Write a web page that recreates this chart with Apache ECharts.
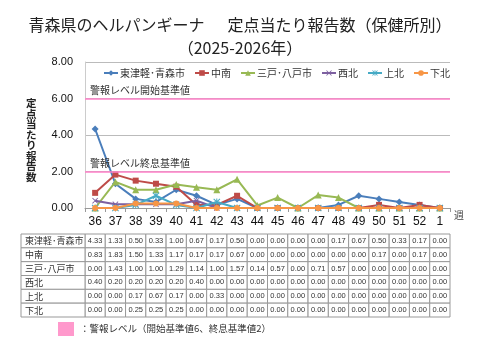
<!DOCTYPE html>
<html><head><meta charset="utf-8">
<script src="https://cdn.jsdelivr.net/npm/echarts@6/dist/echarts.min.js"></script>
<style>html,body{margin:0;padding:0;background:#fff}#c{width:480px;height:360px}</style>
</head><body><div id="c"></div>
<script>
const weeks = ['36','37','38','39','40','41','42','43','44','45','46','47','48','49','50','51','52','1'];
const regionNames = ['東津軽･青森市','中南','三戸･八戸市','西北','上北','下北'];
const higashitsugaru = [4.33,1.33,0.50,0.33,1.00,0.67,0.17,0.50,0.00,0.00,0.00,0.00,0.17,0.67,0.50,0.33,0.17,0.00];
const chunan        = [0.83,1.83,1.50,1.33,1.17,0.17,0.17,0.67,0.00,0.00,0.00,0.00,0.00,0.00,0.17,0.00,0.17,0.00];
const sannohe       = [0.00,1.43,1.00,1.00,1.29,1.14,1.00,1.57,0.14,0.57,0.00,0.71,0.57,0.00,0.00,0.00,0.00,0.00];
const seihoku       = [0.40,0.20,0.20,0.20,0.20,0.40,0.00,0.00,0.00,0.00,0.00,0.00,0.00,0.00,0.00,0.00,0.00,0.00];
const kamikita      = [0.00,0.00,0.17,0.67,0.17,0.00,0.33,0.00,0.00,0.00,0.00,0.00,0.00,0.00,0.00,0.00,0.00,0.00];
const shimokita     = [0.00,0.00,0.25,0.25,0.25,0.00,0.00,0.00,0.00,0.00,0.00,0.00,0.00,0.00,0.00,0.00,0.00,0.00];
const alertStart = 6;
const alertEnd = 2;
const yTicks = [0, 2, 4, 6, 8];

const allValues = [higashitsugaru, chunan, sannohe, seihoku, kamikita, shimokita];
const colors = ['#4A7EBB','#BE4B48','#98B954','#7D60A0','#46AAC5','#F79646'];
const XPATH = 'path://M0,1L1,0L5,4L9,0L10,1L6,5L10,9L9,10L5,6L1,10L0,9L4,5Z';
const STARPATH = 'path://M0,1L1,0L5,4L9,0L10,1L6,5L10,9L9,10L5,6L1,10L0,9L4,5Z M4.3,0L5.7,0L5.7,10L4.3,10Z';
const symbols = ['diamond','rect','triangle',XPATH,STARPATH,'circle'];
const symSizes = [7,6,7,6,7,6];
const JP = '"Noto Sans CJK JP", sans-serif';
const NUM = '"Liberation Sans","Noto Sans CJK JP", sans-serif';

const lineSeries = regionNames.map((n, i) => ({
  name: n, type: 'line', data: allValues[i], xAxisIndex: 0, yAxisIndex: 0,
  symbol: symbols[i], symbolSize: symSizes[i], showAllSymbol: true,
  lineStyle: { width: 2, color: colors[i] }, itemStyle: { color: colors[i] },
  z: 3 + i,
  markLine: i === 0 ? {
    silent: true, symbol: 'none',
    lineStyle: { color: '#FF80C8', width: 1.5, type: 'solid' },
    label: { position: 'insideStartTop', color: '#333', fontSize: 10, fontFamily: JP, distance: [5, 3] },
    data: [
      { yAxis: alertStart, label: { formatter: '警報レベル開始基準値' } },
      { yAxis: alertEnd, label: { formatter: '警報レベル終息基準値' } }
    ]
  } : undefined
}));

const tableData = [];
allValues.forEach((arr, r) => arr.forEach((v, c) => tableData.push([c, r, v])));

const tableSeries = {
  type: 'custom', xAxisIndex: 1, yAxisIndex: 1, silent: true, clip: false,
  data: tableData, encode: { x: 0, y: 1 },
  renderItem: function (params, api) {
    const c = api.value(0), r = api.value(1), v = api.value(2);
    const p = api.coord([c, r]);
    const s = api.size([1, 1]);
    const x0 = p[0] - s[0] / 2, y0 = p[1] - s[1] / 2;
    const children = [
      { type: 'rect', shape: { x: x0, y: y0, width: s[0], height: s[1] },
        style: { fill: '#fff', stroke: '#999', lineWidth: 1 } },
      { type: 'text', style: { text: v.toFixed(2), x: p[0], y: p[1], align: 'center', verticalAlign: 'middle',
        font: '7.5px ' + NUM, fill: '#333' } }
    ];
    if (c === 0) {
      children.push(
        { type: 'rect', shape: { x: 21, y: y0, width: x0 - 21, height: s[1] },
          style: { fill: '#fff', stroke: '#999', lineWidth: 1 } },
        { type: 'text', style: { text: regionNames[r], x: 25, y: p[1], align: 'left', verticalAlign: 'middle',
          font: '9px ' + JP, fill: '#333' } }
      );
    }
    return { type: 'group', children: children };
  }
};

const chart = echarts.init(document.getElementById('c'));
chart.setOption({
  backgroundColor: '#fff',
  animation: false,
  title: [
    { text: '青森県のヘルパンギーナ　  定点当たり報告数（保健所別）', left: 'center', top: 12,
      textStyle: { fontFamily: JP, fontSize: 16, fontWeight: 'normal', color: '#222' } },
    { text: '（2025-2026年）', left: 'center', top: 35,
      textStyle: { fontFamily: JP, fontSize: 16, fontWeight: 'normal', color: '#222' } }
  ],
  legend: {
    data: regionNames, left: 98, top: 63, itemWidth: 14, itemHeight: 7, itemGap: 9,
    textStyle: { fontFamily: JP, fontSize: 10, color: '#333', padding: [0, 0, 0, -3] }
  },
  grid: [
    { left: 85, right: 30, top: 62, height: 146 },
    { left: 85, right: 30, top: 234, height: 83 }
  ],
  xAxis: [
    { type: 'category', data: weeks, gridIndex: 0, boundaryGap: true,
      name: '週', nameLocation: 'end', nameGap: 4,
      nameTextStyle: { fontFamily: JP, fontSize: 10, color: '#444', verticalAlign: 'top', padding: [2, 0, 0, 0] },
      axisLine: { lineStyle: { color: '#999' } },
      axisTick: { show: true, interval: 0, length: 4, lineStyle: { color: '#999' } },
      axisLabel: { interval: 0, fontSize: 12, color: '#111', fontFamily: NUM, margin: 8 } },
    { type: 'category', data: weeks, gridIndex: 1, show: false, boundaryGap: true }
  ],
  yAxis: [
    { type: 'value', gridIndex: 0, min: yTicks[0], max: yTicks[yTicks.length - 1], interval: 2,
      axisLine: { show: true, lineStyle: { color: '#ccc' } },
      axisTick: { show: false },
      splitLine: { lineStyle: { color: '#bbb' } },
      axisLabel: { formatter: v => v.toFixed(2), fontSize: 11, color: '#111', fontFamily: NUM, margin: 12 } },
    { type: 'category', data: regionNames, gridIndex: 1, show: false, inverse: true }
  ],
  graphic: [
    { type: 'text', left: 26, top: 98,
      style: { text: '定\n点\n当\nた\nり\n報\n告\n数', font: 'bold 10.5px ' + JP, lineHeight: 10.5, fill: '#222' } },
    { type: 'rect', left: 58, top: 322, shape: { width: 16, height: 14 }, style: { fill: '#FF99CC' } },
    { type: 'text', left: 80, top: 324,
      style: { text: '：警報レベル（開始基準値6、終息基準値2）', font: '9.5px ' + JP, fill: '#333' } }
  ],
  series: lineSeries.concat([tableSeries])
});
</script>
</body></html>
